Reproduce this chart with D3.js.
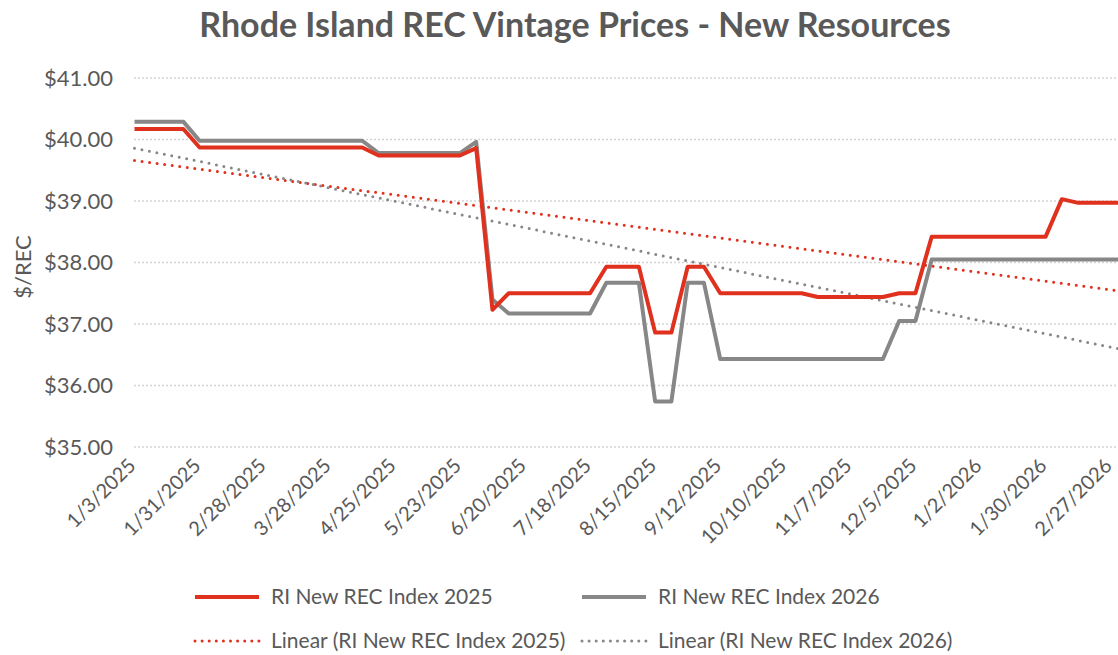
<!DOCTYPE html>
<html>
<head>
<meta charset="utf-8">
<script src="https://cdn.jsdelivr.net/npm/d3@7"></script>
<style>
  body { margin: 0; background: #fff; }
  text { font-family: Lato, "Open Sans", sans-serif; fill: #595959; }
</style>
</head>
<body>
<div id="chart"></div>
<script>
// weekly index dates (Fridays)
var dates = [
  "2025-01-03","2025-01-10","2025-01-17","2025-01-24","2025-01-31",
  "2025-02-07","2025-02-14","2025-02-21","2025-02-28",
  "2025-03-07","2025-03-14","2025-03-21","2025-03-28",
  "2025-04-04","2025-04-11","2025-04-18","2025-04-25",
  "2025-05-02","2025-05-09","2025-05-16","2025-05-23","2025-05-30",
  "2025-06-06","2025-06-13","2025-06-20","2025-06-27",
  "2025-07-04","2025-07-11","2025-07-18","2025-07-25",
  "2025-08-01","2025-08-08","2025-08-15","2025-08-22","2025-08-29",
  "2025-09-05","2025-09-12","2025-09-19","2025-09-26",
  "2025-10-03","2025-10-10","2025-10-17","2025-10-24","2025-10-31",
  "2025-11-07","2025-11-14","2025-11-21","2025-11-28",
  "2025-12-05","2025-12-12","2025-12-19","2025-12-26",
  "2026-01-02","2026-01-09","2026-01-16","2026-01-23","2026-01-30",
  "2026-02-06","2026-02-13","2026-02-20","2026-02-27",
  "2026-03-06"
];

var index2025 = [
  40.17,40.17,40.17,40.17,
  39.87,39.87,39.87,39.87,39.87,39.87,39.87,39.87,39.87,39.87,39.87,
  39.74,39.74,39.74,39.74,39.74,39.74,
  39.86,
  37.23,
  37.50,37.50,37.50,37.50,37.50,37.50,
  37.93,37.93,37.93,
  36.86,36.86,
  37.93,37.93,
  37.50,37.50,37.50,37.50,37.50,37.50,
  37.44,37.44,37.44,37.44,37.44,
  37.50,37.50,
  38.42,38.42,38.42,38.42,38.42,38.42,38.42,38.42,
  39.03,
  38.97,38.97,38.97,38.97
];

var index2026 = [
  40.29,40.29,40.29,40.29,
  39.98,39.98,39.98,39.98,39.98,39.98,39.98,39.98,39.98,39.98,39.98,
  39.78,39.78,39.78,39.78,39.78,39.78,
  39.96,
  37.40,
  37.17,37.17,37.17,37.17,37.17,37.17,
  37.67,37.67,37.67,
  35.74,35.74,
  37.67,37.67,
  36.43,36.43,36.43,36.43,36.43,36.43,36.43,36.43,36.43,36.43,36.43,
  37.05,37.05,
  38.05,38.05,38.05,38.05,38.05,38.05,38.05,38.05,38.05,38.05,38.05,38.05,38.05
];

var tickDates = [
  "2025-01-03","2025-01-31","2025-02-28","2025-03-28","2025-04-25",
  "2025-05-23","2025-06-20","2025-07-18","2025-08-15","2025-09-12",
  "2025-10-10","2025-11-07","2025-12-05","2026-01-02","2026-01-30","2026-02-27"
];
var yTicks = [35, 36, 37, 38, 39, 40, 41];

var seriesNames = ["RI New REC Index 2025", "RI New REC Index 2026"];
var colors = ["#e0301e", "#878787"];

var W = 1118, H = 655;
var parse = d3.timeParse("%Y-%m-%d");
var fmt = d3.timeFormat("%-m/%-d/%Y");

var svg = d3.select("#chart").append("svg")
    .attr("width", W)
    .attr("height", H);

svg.append("rect").attr("width", W).attr("height", H).attr("fill", "#fff");

var x = d3.scaleTime()
    .domain([parse("2025-01-03"), parse("2026-03-06")])
    .range([134.5, 134.5 + 61 * 16.27]);
var y = d3.scaleLinear()
    .domain([35, 41])
    .range([447, 78]);

// title
svg.append("text")
    .attr("x", 575).attr("y", 37)
    .attr("text-anchor", "middle")
    .style("font-size", "34px")
    .style("font-weight", "bold")
    .text("Rhode Island REC Vintage Prices - New Resources");

// gridlines
svg.append("g").selectAll("line")
    .data(yTicks)
  .enter().append("line")
    .attr("x1", 134).attr("x2", W)
    .attr("y1", function(d) { return y(d); })
    .attr("y2", function(d) { return y(d); })
    .attr("stroke", "#d4d4d4")
    .attr("stroke-width", 1.5)
    .attr("stroke-dasharray", "2,2");

// y axis
var yAxis = d3.axisLeft(y)
    .tickValues(yTicks)
    .tickSize(0)
    .tickPadding(0)
    .tickFormat(function(d) { return "$" + d3.format(".2f")(d); });
var gy = svg.append("g")
    .attr("transform", "translate(113,0)")
    .call(yAxis);
gy.select(".domain").remove();
gy.selectAll("text").style("font-size", "22px").attr("fill", "#595959");

svg.append("text")
    .attr("transform", "translate(31,267) rotate(-90)")
    .attr("text-anchor", "middle")
    .style("font-size", "22px")
    .text("$/REC");

// x axis
var xAxis = d3.axisBottom(x)
    .tickValues(tickDates.map(parse))
    .tickSize(0)
    .tickFormat(fmt);
var gx = svg.append("g")
    .attr("transform", "translate(0,462)")
    .call(xAxis);
gx.select(".domain").remove();
gx.selectAll("text")
    .style("font-size", "20px")
    .attr("fill", "#595959")
    .attr("text-anchor", "end")
    .attr("dy", "0.35em")
    .attr("y", 0)
    .attr("transform", "translate(-3,0) rotate(-45)");

// data
var allSeries = [index2025, index2026].map(function(vals) {
  return vals.map(function(v, i) { return {date: parse(dates[i]), value: v, i: i}; });
});

// least squares trend (like the spreadsheet "Linear" trendline)
function trend(pts) {
  var n = pts.length;
  var mx = d3.mean(pts, function(d) { return d.i; });
  var my = d3.mean(pts, function(d) { return d.value; });
  var sxy = d3.sum(pts, function(d) { return (d.i - mx) * (d.value - my); });
  var sxx = d3.sum(pts, function(d) { return (d.i - mx) * (d.i - mx); });
  var b = sxy / sxx, a = my - b * mx;
  return [pts[0], pts[n - 1]].map(function(d) { return {date: d.date, value: a + b * d.i}; });
}

var line = d3.line()
    .x(function(d) { return x(d.date); })
    .y(function(d) { return y(d.value); });

var plot = svg.append("g");

plot.selectAll(".trend")
    .data(allSeries)
  .enter().append("path")
    .attr("class", "trend")
    .attr("d", function(d) { return line(trend(d)); })
    .attr("fill", "none")
    .attr("stroke", function(d, k) { return colors[k]; })
    .attr("stroke-width", 3)
    .attr("stroke-linecap", "round")
    .attr("stroke-dasharray", "0,7.6");

plot.selectAll(".series")
    .data(allSeries.slice().reverse())
  .enter().append("path")
    .attr("class", "series")
    .attr("d", line)
    .attr("fill", "none")
    .attr("stroke", function(d, k) { return colors[1 - k]; })
    .attr("stroke-width", 4)
    .attr("stroke-linejoin", "round");

// legend
var legendItems = [
  {label: seriesNames[0], color: colors[0], dotted: false, x: 195, y: 597},
  {label: seriesNames[1], color: colors[1], dotted: false, x: 582, y: 597},
  {label: "Linear (" + seriesNames[0] + ")", color: colors[0], dotted: true, x: 195, y: 641},
  {label: "Linear (" + seriesNames[1] + ")", color: colors[1], dotted: true, x: 582, y: 641}
];
var lg = svg.append("g").selectAll("g")
    .data(legendItems)
  .enter().append("g")
    .attr("transform", function(d) { return "translate(" + d.x + "," + d.y + ")"; });
lg.append("line")
    .attr("x1", 0).attr("x2", 64)
    .attr("stroke", function(d) { return d.color; })
    .attr("stroke-width", function(d) { return d.dotted ? 3 : 4; })
    .attr("stroke-linecap", function(d) { return d.dotted ? "round" : "butt"; })
    .attr("stroke-dasharray", function(d) { return d.dotted ? "0,7.1" : null; });
lg.append("text")
    .attr("x", 76)
    .attr("dy", "0.35em")
    .style("font-size", "21px")
    .text(function(d) { return d.label; });
</script>
</body>
</html>
